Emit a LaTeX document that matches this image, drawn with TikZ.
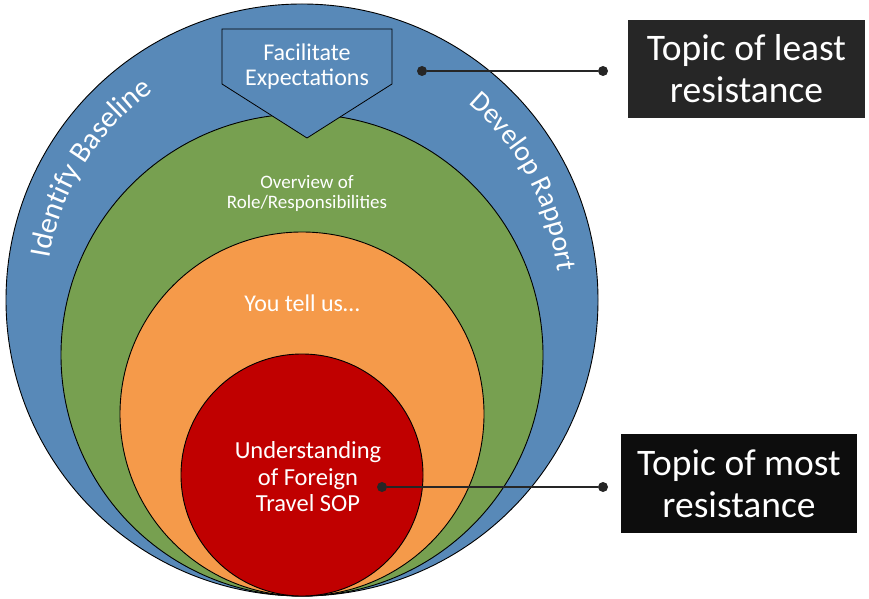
\documentclass[tikz,border=0pt]{standalone}
\usepackage{fontspec}
\setmainfont{Carlito}
\usetikzlibrary{decorations.text}

\definecolor{ringblue}{HTML}{5889B8}
\definecolor{ringgreen}{HTML}{77A050}
\definecolor{ringorange}{HTML}{F59A4A}
\definecolor{ringred}{HTML}{C00000}
\definecolor{tagdark}{HTML}{262626}
\definecolor{tagblack}{HTML}{0D0D0D}

\begin{document}
\begin{tikzpicture}[x=1pt, y=1pt,
    ring/.style={circle, draw=black, line width=0.9pt, inner sep=0pt},
    inlabel/.style={text=white, align=center},
    tag/.style={text=white, align=center, inner sep=0pt,
      font=\fontsize{37.5}{42}\selectfont},
    pin/.style={circle, fill=tagdark, inner sep=0pt, minimum size=10pt},
    link/.style={draw=tagdark, line width=2.5pt}]
    \useasboundingbox (0,0) rectangle (869,598);

    % nested rings, all touching at the bottom
    \node[ring, fill=ringblue, minimum size=592pt] (baseline) at (302,298) {};
    \node[ring, fill=ringgreen, minimum size=482pt] (overview) at (302,243) {};
    \node[ring, fill=ringorange, minimum size=364pt] (tellus) at (302,184) {};
    \node[ring, fill=ringred, minimum size=242pt] (sop) at (302,123) {};

    % pentagon tab on top
    \draw[fill=ringblue, line width=0.8pt] (222,569) -- (392,569) -- (392,514)
        -- (307,460) -- (222,514) -- cycle;
    \node[inlabel, font=\fontsize{24}{25}\selectfont] (expect) at (307,531)
        {Facilitate\\Expectations};

    % texts bent along the blue ring
    \path[decorate, decoration={text along path, text align=center,
        text color=white, text={|\fontsize{30}{30}\selectfont|Identify Baseline}}]
        (302,298) ++(195:256) arc[start angle=195, end angle=101, radius=256];
    \path[decorate, decoration={text along path, text align=center,
        text color=white, text={|\fontsize{28.5}{28.5}\selectfont|Develop Rapport}}]
        (302,298) ++(73:257) arc[start angle=73, end angle=-17, radius=257];

    \node[inlabel, font=\fontsize{19}{20}\selectfont] (roles) at (307,405)
        {Overview of\\Role/Responsibilities};
    \node[inlabel, font=\fontsize{24}{26}\selectfont] (you) at (302,295)
        {You tell us\ldots};
    \node[inlabel, font=\fontsize{24.5}{26.5}\selectfont] (travel) at (308,121)
        {Understanding\\of Foreign\\Travel SOP};

    % callouts
    \node[tag, fill=tagdark, minimum width=237pt, minimum height=98pt]
        (least) at (746.5,529) {Topic of least\\resistance};
    \node[tag, fill=tagblack, minimum width=236pt, minimum height=99pt]
        (most) at (739,114.5) {Topic of most\\resistance};

    \node[pin] (leastin) at (422,527) {};
    \node[pin] (leastout) at (603,527) {};
    \node[pin] (mostin) at (382,111) {};
    \node[pin] (mostout) at (603,111) {};
    \draw[link] (leastin) -- (leastout);
    \draw[link] (mostin) -- (mostout);
\end{tikzpicture}
\end{document}
